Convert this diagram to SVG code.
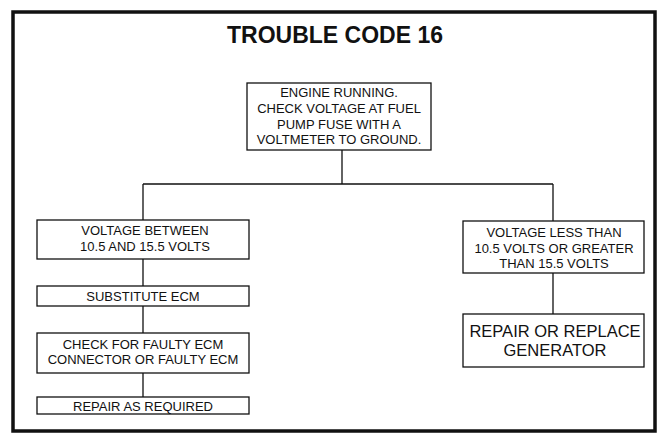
<svg xmlns="http://www.w3.org/2000/svg" width="662" height="433" viewBox="0 0 662 433">
<style>
.box{fill:#fff;stroke:#111;stroke-width:1.3}
.t{font-family:"Liberation Sans",Arial,sans-serif;font-size:13px;fill:#111;text-anchor:middle}
.big{font-size:16.5px}
.title{font-family:"Liberation Sans",Arial,sans-serif;font-size:23px;font-weight:bold;fill:#111;text-anchor:middle}
.c{fill:none;stroke:#111;stroke-width:1.3}
</style>
<rect width="662" height="433" fill="#fff"/>
<rect x="13" y="12" width="642" height="419" fill="none" stroke="#111" stroke-width="3.5"/>
<text class="title" x="335" y="43">TROUBLE CODE 16</text>
<g id="connectors">
<path class="c" d="M342 150V184M143 184H553M143 184V220M553 184V221"/>
<path class="c" d="M143 259V286M143 306V333M143 373V397M553 273V314"/>
</g>
<g id="start">
<rect class="box" x="247" y="83" width="184" height="67"/>
<text class="t" x="339" y="97">ENGINE RUNNING.</text>
<text class="t" x="339" y="113">CHECK VOLTAGE AT FUEL</text>
<text class="t" x="339" y="128.5">PUMP FUSE WITH A</text>
<text class="t" x="339" y="144">VOLTMETER TO GROUND.</text>
</g>
<g id="between">
<rect class="box" x="37" y="220" width="212" height="39"/>
<text class="t" x="145" y="235">VOLTAGE BETWEEN</text>
<text class="t" x="145" y="251">10.5 AND 15.5 VOLTS</text>
</g>
<g id="substitute">
<rect class="box" x="37" y="286" width="212" height="20"/>
<text class="t" x="143" y="301">SUBSTITUTE ECM</text>
</g>
<g id="check">
<rect class="box" x="37" y="333" width="212" height="40"/>
<text class="t" x="143" y="349">CHECK FOR FAULTY ECM</text>
<text class="t" x="143" y="364">CONNECTOR OR FAULTY ECM</text>
</g>
<g id="repair">
<rect class="box" x="37" y="397" width="212" height="17"/>
<text class="t" x="143" y="411">REPAIR AS REQUIRED</text>
</g>
<g id="outside">
<rect class="box" x="463" y="221" width="181" height="52"/>
<text class="t" x="554" y="237">VOLTAGE LESS THAN</text>
<text class="t" x="554" y="253">10.5 VOLTS OR GREATER</text>
<text class="t" x="554" y="268">THAN 15.5 VOLTS</text>
</g>
<g id="generator">
<rect class="box" x="463" y="314" width="181" height="53"/>
<text class="t big" x="555" y="337">REPAIR OR REPLACE</text>
<text class="t big" x="555" y="356">GENERATOR</text>
</g>
</svg>
